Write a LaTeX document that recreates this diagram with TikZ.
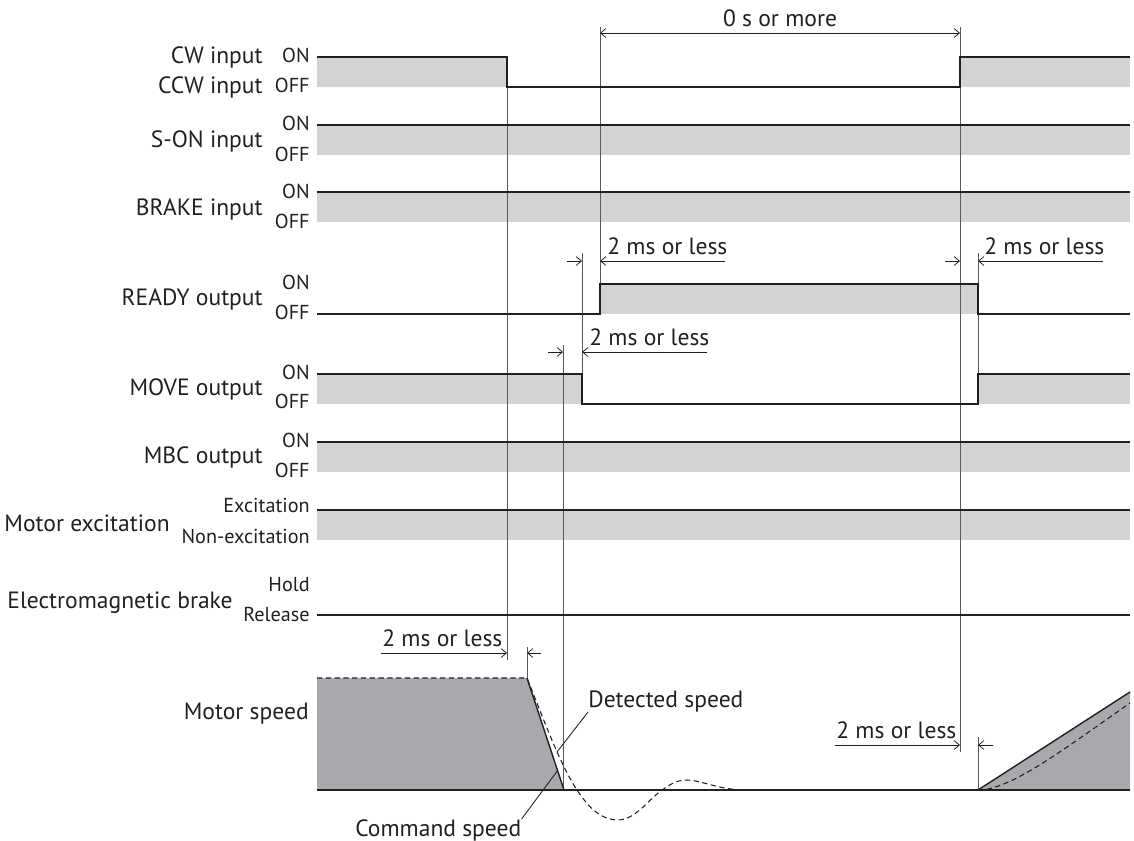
\documentclass[tikz,border=0pt]{standalone}
\usepackage{fontspec}
\setmainfont{PT Sans}
\usetikzlibrary{arrows.meta}

\definecolor{ink}{HTML}{231F20}
\definecolor{sigfill}{HTML}{D1D3D4}
\definecolor{spdfill}{HTML}{A7A9AC}

\begin{document}
\begin{tikzpicture}[x=0.02cm, y=-0.02cm,
  >={Straight Barb[length=3pt,width=5pt]},
  sig/.style={draw=ink, line width=0.8pt},
  guide/.style={draw=black!65, line width=0.5pt},
  dimline/.style={draw=ink, line width=0.45pt},
  leader/.style={draw=ink, line width=0.5pt},
  detected/.style={draw=ink, line width=0.6pt, dash pattern=on 3pt off 2pt},
  hi/.style={fill=sigfill},
  statelbl/.style={font=\fontsize{11.5}{13}\selectfont, text=ink, inner sep=0pt, anchor=base east},
  rowname/.style={font=\fontsize{13.4}{15}\selectfont, text=ink, inner sep=0pt, anchor=base east},
  dimtext/.style={font=\fontsize{13.4}{15}\selectfont, text=ink, inner sep=0pt, anchor=base west},
]
  \useasboundingbox (0,0) rectangle (1134,841);

  % --- grey bands (ON level) ---
  \fill[hi] (317,57) rectangle (507,87);
  \fill[hi] (960,57) rectangle (1130,87);
  \fill[hi] (317,125) rectangle (1130,155);
  \fill[hi] (317,192) rectangle (1130,222);
  \fill[hi] (600,284) rectangle (978,314);
  \fill[hi] (317,374) rectangle (582,404);
  \fill[hi] (978,374) rectangle (1130,404);
  \fill[hi] (317,442) rectangle (1130,472);
  \fill[hi] (317,510) rectangle (1130,540);

  % --- motor speed area ---
  \fill[spdfill] (317,678) -- (527,678) -- (564,790) -- (317,790) -- cycle;
  \fill[spdfill] (978,790) -- (1130,692) -- (1130,790) -- cycle;

  % --- vertical guide lines ---
  \draw[guide] (507,87) -- (507,660);
  \draw[guide] (600,27) -- (600,284);
  \draw[guide] (960,27) -- (960,752);
  \draw[guide] (582,253) -- (582,374);
  \draw[guide] (563,345) -- (563,790);
  \draw[guide] (978,253) -- (978,404);
  \draw[guide] (978,737) -- (978,790);
  \draw[guide] (527,647) -- (527,678);

  % --- CW / CCW input ---
  \draw[sig] (317,57) -| (507,87) -| (960,57) -- (1130,57);
  \node[statelbl] (cwon) at (310,63) {ON};
  \node[statelbl] (cwoff) at (310,93) {OFF};
  \node[rowname] (cwname) at (263,64) {CW input};
  \node[rowname] (ccwname) at (263,94) {CCW input};

  % --- S-ON input ---
  \draw[sig] (317,125) -- (1130,125);
  \node[statelbl] (sonon) at (310,131) {ON};
  \node[statelbl] (sonoff) at (310,162) {OFF};
  \node[rowname] (sonname) at (263,148) {S-ON input};

  % --- BRAKE input ---
  \draw[sig] (317,192) -- (1130,192);
  \node[statelbl] (brkon) at (310,199) {ON};
  \node[statelbl] (brkoff) at (310,229) {OFF};
  \node[rowname] (brkname) at (263,216) {BRAKE input};

  % --- READY output ---
  \draw[sig] (317,314) -| (600,284) -| (978,314) -- (1130,314);
  \node[statelbl] (rdyon) at (310,290) {ON};
  \node[statelbl] (rdyoff) at (310,320) {OFF};
  \node[rowname] (rdyname) at (263,306) {READY output};

  % --- MOVE output ---
  \draw[sig] (317,374) -| (582,404) -| (978,374) -- (1130,374);
  \node[statelbl] (movon) at (310,380) {ON};
  \node[statelbl] (movoff) at (310,409) {OFF};
  \node[rowname] (movname) at (263,396) {MOVE output};

  % --- MBC output ---
  \draw[sig] (317,442) -- (1130,442);
  \node[statelbl] (mbcon) at (310,448) {ON};
  \node[statelbl] (mbcoff) at (310,478) {OFF};
  \node[rowname] (mbcname) at (263,464) {MBC output};

  % --- motor excitation ---
  \draw[sig] (317,510) -- (1130,510);
  \node[statelbl] (excon) at (310,513) {Excitation};
  \node[statelbl] (excoff) at (310,543) {Non-excitation};
  \node[rowname] (excname) at (170,532) {Motor excitation};

  % --- electromagnetic brake ---
  \draw[sig] (317,615) -- (1130,615);
  \node[statelbl] (emhold) at (310,592) {Hold};
  \node[statelbl] (emrel) at (310,622) {Release};
  \node[rowname] (emname) at (233,608) {Electromagnetic brake};

  % --- motor speed ---
  \draw[sig] (317,790) -- (1130,790);
  \draw[sig] (527,678) -- (564,790);
  \draw[sig] (978,790) -- (1130,692);
  \draw[detected] (317,678) -- (527,678)
    .. controls (540,710) and (560,765) .. (577,790)
    .. controls (590,810) and (603,820) .. (618,820)
    .. controls (635,820) and (648,800) .. (662,790)
    .. controls (672,783) and (678,780) .. (687,780)
    .. controls (700,780) and (720,790) .. (745,790) -- (978,790);
  \draw[detected] (978,790) .. controls (1010,790) and (1060,752) .. (1130,703);
  \node[rowname] (spdname) at (309,720) {Motor speed};

  \node[dimtext] (detlbl) at (588,707) {Detected speed};
  \coordinate (detpt) at (557,752);
  \draw[leader] (detlbl.south west) -- (detpt);
  \node[dimtext] (cmdlbl) at (355,836) {Command speed};
  \coordinate (cmdpt) at (558,770);
  \draw[leader] (cmdlbl.north east) -- (cmdpt);

  % --- time dimensions ---
  \draw[dimline,<->] (600,33) -- (960,33);
  \node[font=\fontsize{13.4}{15}\selectfont, text=ink, inner sep=0pt, anchor=base] (zerolbl) at (780,27) {0 s or more};

  \draw[dimline,->] (567,261) -- (582,261);
  \draw[dimline,->] (725,261) -- (600,261);
  \node[dimtext] (rdyllbl) at (607,255) {2 ms or less};

  \draw[dimline,->] (945,261) -- (960,261);
  \draw[dimline,->] (1103,261) -- (978,261);
  \node[dimtext] (rdyrlbl) at (984,255) {2 ms or less};

  \draw[dimline,->] (548,352) -- (563,352);
  \draw[dimline,->] (707,352) -- (582,352);
  \node[dimtext] (movlbl) at (589,346) {2 ms or less};

  \draw[dimline,->] (381,653) -- (507,653);
  \draw[dimline,->] (541,653) -- (527,653);
  \node[dimtext] (stoplbl) at (382,646) {2 ms or less};

  \draw[dimline,->] (835,745) -- (960,745);
  \draw[dimline,->] (993,745) -- (978,745);
  \node[dimtext] (startlbl) at (836,738) {2 ms or less};

\end{tikzpicture}
\end{document}
